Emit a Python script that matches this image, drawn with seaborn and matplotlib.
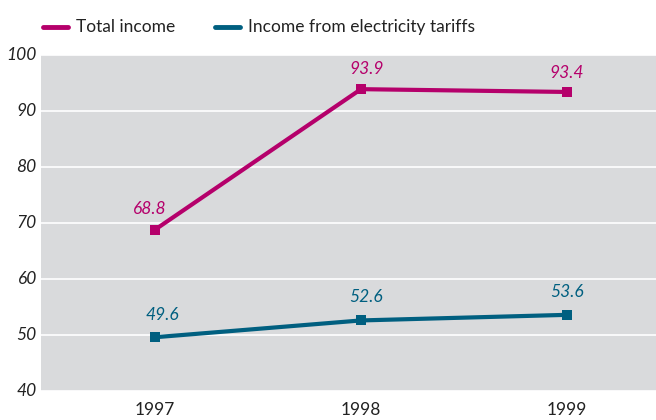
import matplotlib
matplotlib.use("Agg")
import matplotlib.pyplot as plt
import seaborn as sns
import pandas as pd

# ==================== DATA ====================
YEARS = ['1997', '1998', '1999']
TOTAL_INCOME = [68.8, 93.9, 93.4]
TARIFF_INCOME = [49.6, 52.6, 53.6]
SERIES = ['Total income', 'Income from electricity tariffs']
COLORS = ['#B5006B', '#005F80']
Y_TICKS = [40, 50, 60, 70, 80, 90, 100]

df = pd.DataFrame({
    'year': YEARS * 2,
    'x': list(range(len(YEARS))) * 2,
    'value': TOTAL_INCOME + TARIFF_INCOME,
    'series': [SERIES[0]] * 3 + [SERIES[1]] * 3,
})

sns.set_theme(style='white')
plt.rcParams['font.family'] = ['Lato', 'DejaVu Sans']

fig = plt.figure(figsize=(6.56, 4.2), dpi=100)
ax = fig.add_axes([41 / 656, 29 / 420, 615 / 656, 336 / 420])
ax.set_facecolor('#D9DADC')

sns.lineplot(data=df, x='x', y='value', hue='series', palette=COLORS,
             marker='s', markersize=7, markeredgewidth=0, linewidth=3,
             legend=False, ax=ax)

# value labels
offsets = {SERIES[0]: [(-4, 9), (4, 9), (0, 8)],
           SERIES[1]: [(5, 10), (4, 11), (0, 11)]}
for name, color in zip(SERIES, COLORS):
    sub = df[df['series'] == name]
    for (xi, yi), off in zip(zip(sub['x'], sub['value']), offsets[name]):
        ax.annotate(f'{yi:.1f}', (xi, yi), xytext=off, textcoords='offset points',
                    ha='center', va='bottom', color=color, fontsize=12.5, style='italic')

ax.set_xlim(-0.553, 2.432)
ax.set_ylim(40, 100)
ax.tick_params(axis='both', length=0)
ax.tick_params(axis='x', pad=8)

# y ticks: gridlines from the axis, italic labels drawn as text in axis coords
ax.set_yticks(Y_TICKS)
ax.set_yticklabels([])
for v in Y_TICKS:
    ax.annotate(str(v), (0, v), xycoords=ax.get_yaxis_transform(), xytext=(-3, 0),
                textcoords='offset points', ha='right', va='center',
                fontsize=12.5, style='italic', color='#222222', annotation_clip=False)
ax.set_xticks(range(len(YEARS)))
ax.set_xticklabels(YEARS, fontsize=12.5, color='#222222')

ax.yaxis.grid(True, color='white', linewidth=1.2)
ax.set_axisbelow(True)
ax.set_xlabel('')
ax.set_ylabel('')
for s in ax.spines.values():
    s.set_visible(False)

# legend at top
fig.lines.append(plt.Line2D([43 / 656, 68 / 656], [1 - 27 / 420] * 2, color=COLORS[0],
                            linewidth=3.5, transform=fig.transFigure))
fig.text(76 / 656, 1 - 27 / 420, SERIES[0], va='center', ha='left', fontsize=12.5, color='#222222')
fig.lines.append(plt.Line2D([215 / 656, 240 / 656], [1 - 27 / 420] * 2, color=COLORS[1],
                            linewidth=3.5, transform=fig.transFigure))
fig.text(248 / 656, 1 - 27 / 420, SERIES[1], va='center', ha='left', fontsize=12.5, color='#222222')

fig.savefig('out.png', dpi=100)
